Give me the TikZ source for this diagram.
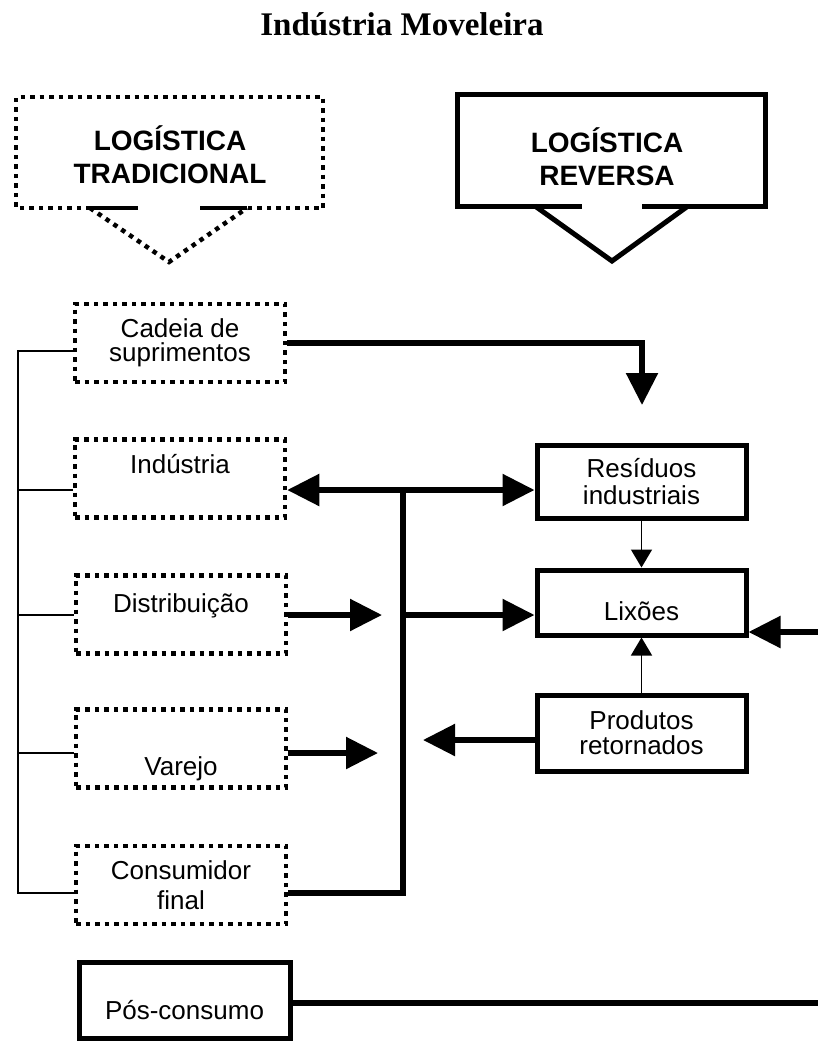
\documentclass[tikz,border=0pt]{standalone}
\usepackage{fontspec}
\setmainfont{Liberation Serif}
\setsansfont{Liberation Sans}
\usetikzlibrary{arrows.meta}

\newcommand{\lblfont}{\sffamily\fontsize{26}{26}\selectfont}
\tikzset{
  dotbox/.style={draw, line width=4.5pt, dash pattern=on 4.5pt off 5pt, minimum width=210pt, minimum height=78pt, inner sep=0pt, align=center, font=\lblfont},
  solbox/.style={draw, line width=5pt, minimum width=209pt, inner sep=0pt, align=center, font=\lblfont},
  lbl/.style={font=\lblfont, align=center, inner sep=0pt},
  head/.style={font=\sffamily\bfseries\fontsize{28}{33}\selectfont, align=center, inner sep=0pt},
  fat/.style={line width=5.5pt},
  slim/.style={line width=1.5pt},
  bigtip/.style={-{Triangle[length=32pt,width=31pt]}},
  bigtips/.style={{Triangle[length=32pt,width=31pt]}-{Triangle[length=32pt,width=31pt]}},
  smalltip/.style={-{Triangle[length=18pt,width=21pt]}}
}

\begin{document}
\begin{tikzpicture}[x=1pt,y=-1pt]
\useasboundingbox (0,0) rectangle (818,1042);
\node[font=\bfseries\fontsize{33}{33}\selectfont] (title) at (402,24) {Indústria Moveleira};

\draw[line width=4.5pt, dash pattern=on 4.5pt off 5pt] (138,208) -- (16,208) -- (16,97) -- (323,97) -- (323,208) -- (200,208);
\draw[line width=4.5pt, dash pattern=on 4.5pt off 5pt] (90,208) -- (169,262) -- (247,208);
\draw[line width=4.5pt] (90,208) -- (138,208) (200,208) -- (247,208);
\node[head] (trad) at (170,155) {LOGÍSTICA\\TRADICIONAL};

\draw[line width=5pt] (582,206) -- (457,206) -- (457,94) -- (765,94) -- (765,206) -- (642,206);
\draw[line width=5pt] (535,206) -- (612,261) -- (688,206);
\node[head] (rev) at (607,157) {LOGÍSTICA\\REVERSA};

\node[dotbox] (cad) at (180,343) {Cadeia de\\[-2pt]suprimentos};
\node[dotbox, label={[lbl,yshift=14pt]center:Indústria}] (ind) at (180,478.5) {};
\node[dotbox, label={[lbl,yshift=8.5pt]center:Distribuição}] (dis) at (181,614.5) {};
\node[dotbox, label={[lbl,yshift=-20pt]center:Varejo}] (var) at (181,748.5) {};
\node[dotbox] (con) at (181,885) {Consumidor\\[4pt]final};

\node[solbox, minimum height=73pt] (res) at (641.5,481.5) {Resíduos\\[1pt]industriais};
\node[solbox, minimum height=65pt, label={[lbl,yshift=-8.5pt]center:Lixões}] (lix) at (641.5,602.5) {};
\node[solbox, minimum height=76pt] (pro) at (641.5,733) {Produtos\\[-1pt]retornados};
\node[solbox, minimum width=211pt, minimum height=76pt, label={[lbl,yshift=-10pt]center:Pós-consumo}] (pos) at (184.5,1000) {};

\coordinate (cadTip) at (642,405);
\coordinate (b1) at (403,490);
\coordinate (b3) at (403,615);
\coordinate (b5) at (403,893);
\coordinate (disTip) at (382,615);
\coordinate (varTip) at (378,753);
\coordinate (proTip) at (423,740);
\coordinate (lixIn) at (818,632);
\coordinate (posOut) at (818,1003);
\coordinate (l1) at (18,351);
\coordinate (l2) at (18,490);
\coordinate (l3) at (18,615);
\coordinate (l4) at (18,753);
\coordinate (l5) at (18,893);

\draw[fat, bigtip] (cad.east) -| (cadTip);
\draw[fat, bigtips] (ind.east |- b1) -- (res.west |- b1);
\draw[fat] (b1) -- (b5) -- (con.east |- b5);
\draw[fat, bigtip] (b3) -- (lix.west |- b3);
\draw[fat, bigtip] (dis.east |- disTip) -- (disTip);
\draw[fat, bigtip] (var.east |- varTip) -- (varTip);
\draw[fat, bigtip] (pro.west |- proTip) -- (proTip);
\draw[fat, bigtip] (lixIn) -- (lix.east |- lixIn);
\draw[fat] (pos.east |- posOut) -- (posOut);
\draw[slim, smalltip] (res.south) -- (lix.north);
\draw[slim, smalltip] (pro.north) -- (lix.south);

\draw[slim] (cad.west |- l1) -- (l1) -- (l5) -- (con.west |- l5);
\foreach \n/\c in {ind/l2, dis/l3, var/l4}
    \draw[slim] (\c) -- (\n.west |- \c);
\end{tikzpicture}
\end{document}
